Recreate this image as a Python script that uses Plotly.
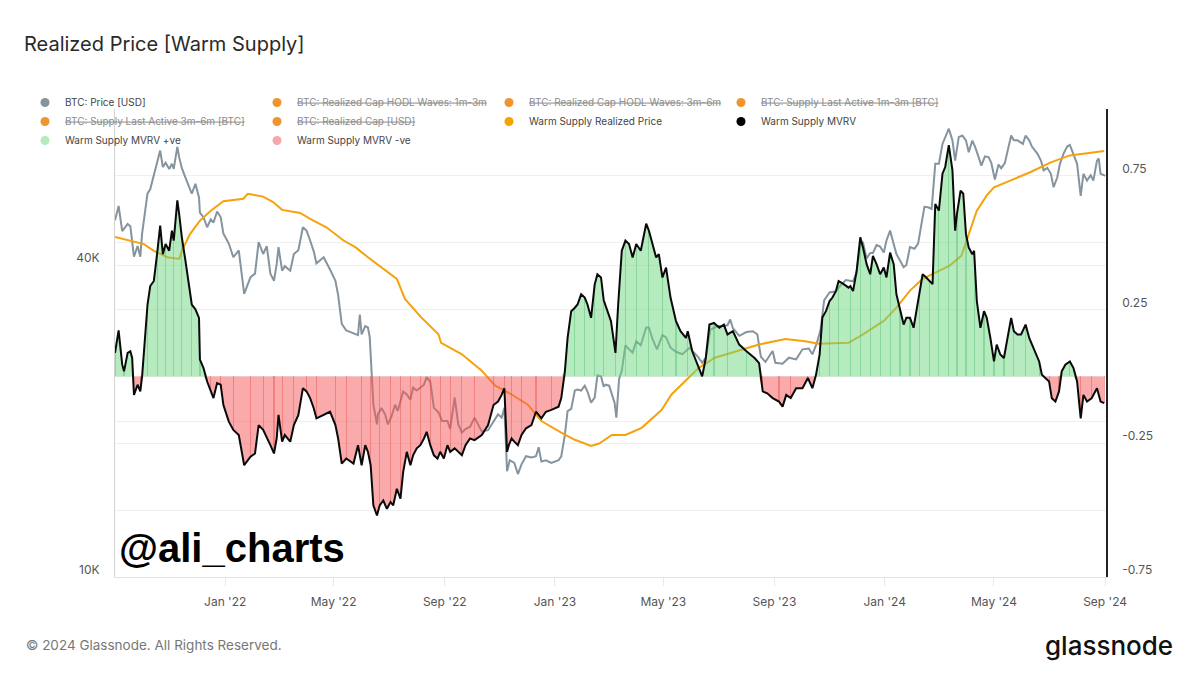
import plotly.graph_objects as go

# ---------------- data ----------------
price_dates = [
    "2021-09-01","2021-09-05","2021-09-09","2021-09-15","2021-09-18","2021-09-22","2021-09-26","2021-09-29",
    "2021-10-01","2021-10-05","2021-10-07","2021-10-10","2021-10-14","2021-10-18","2021-10-21","2021-10-24",
    "2021-10-27","2021-10-31","2021-11-03","2021-11-05","2021-11-09","2021-11-11","2021-11-14","2021-11-18",
    "2021-11-22","2021-11-25","2021-11-29","2021-12-03","2021-12-04","2021-12-08","2021-12-12","2021-12-16",
    "2021-12-19","2021-12-23","2021-12-27","2021-12-30","2022-01-05","2022-01-10","2022-01-16","2022-01-22",
    "2022-01-29","2022-02-03","2022-02-07","2022-02-12","2022-02-16","2022-02-20","2022-02-24","2022-02-27",
    "2022-03-01","2022-03-05","2022-03-08","2022-03-14","2022-03-18","2022-03-23","2022-03-28","2022-04-01",
    "2022-04-05","2022-04-09","2022-04-12","2022-04-20","2022-04-27","2022-05-03","2022-05-06","2022-05-10",
    "2022-05-15","2022-05-23","2022-05-28","2022-05-30","2022-06-01","2022-06-05","2022-06-08","2022-06-10",
    "2022-06-14","2022-06-18","2022-06-19","2022-06-23","2022-06-27","2022-06-30","2022-07-04","2022-07-08",
    "2022-07-11","2022-07-17","2022-07-21","2022-07-25","2022-07-28","2022-08-01","2022-08-09","2022-08-12",
    "2022-08-16","2022-08-20","2022-08-25","2022-08-29","2022-09-04","2022-09-07","2022-09-12","2022-09-16",
    "2022-09-20","2022-09-24","2022-09-29","2022-10-04","2022-10-12","2022-10-19","2022-10-25","2022-10-30",
    "2022-11-03","2022-11-06","2022-11-09","2022-11-12","2022-11-17","2022-11-21","2022-11-25","2022-11-30",
    "2022-12-06","2022-12-11","2022-12-14","2022-12-17","2022-12-22","2022-12-28","2023-01-05","2023-01-08",
    "2023-01-12","2023-01-15","2023-01-19","2023-01-23","2023-01-26","2023-01-30","2023-02-03","2023-02-06",
    "2023-02-10","2023-02-14","2023-02-17","2023-02-21","2023-02-24","2023-02-26","2023-03-02","2023-03-05",
    "2023-03-08","2023-03-10","2023-03-13","2023-03-16","2023-03-20","2023-03-24","2023-03-28","2023-04-01",
    "2023-04-06","2023-04-12","2023-04-15","2023-04-19","2023-04-24","2023-04-30","2023-05-04","2023-05-09",
    "2023-05-15","2023-05-22","2023-05-30","2023-06-04","2023-06-09","2023-06-13","2023-06-17","2023-06-22",
    "2023-06-30","2023-07-05","2023-07-11","2023-07-14","2023-07-17","2023-07-24","2023-08-01","2023-08-08",
    "2023-08-13","2023-08-17","2023-08-22","2023-08-30","2023-09-02","2023-09-10","2023-09-17","2023-09-25",
    "2023-10-02","2023-10-09","2023-10-13","2023-10-18","2023-10-22","2023-10-26","2023-11-01","2023-11-08",
    "2023-11-13","2023-11-19","2023-11-22","2023-11-27","2023-12-01","2023-12-05","2023-12-08","2023-12-12",
    "2023-12-16","2023-12-19","2023-12-23","2023-12-27","2023-12-31","2024-01-03","2024-01-07","2024-01-11",
    "2024-01-14","2024-01-18","2024-01-22","2024-01-25","2024-01-29","2024-02-03","2024-02-07","2024-02-11",
    "2024-02-14","2024-02-18","2024-02-22","2024-02-26","2024-03-01","2024-03-05","2024-03-08","2024-03-12",
    "2024-03-16","2024-03-19","2024-03-23","2024-03-27","2024-03-31","2024-04-03","2024-04-07","2024-04-10",
    "2024-04-14","2024-04-17","2024-04-21","2024-04-25","2024-04-28","2024-05-02","2024-05-06","2024-05-09",
    "2024-05-13","2024-05-16","2024-05-20","2024-05-23","2024-05-27","2024-06-02","2024-06-05","2024-06-09",
    "2024-06-12","2024-06-18","2024-06-22","2024-06-25","2024-06-29","2024-07-03","2024-07-06","2024-07-10",
    "2024-07-13","2024-07-17","2024-07-21","2024-07-24","2024-07-28","2024-08-01","2024-08-05","2024-08-08",
    "2024-08-12","2024-08-16","2024-08-19","2024-08-23","2024-08-25","2024-08-27","2024-08-31","2024-09-01",
]
price_usd = [
    48800,52000,46500,48000,47500,41500,43500,41500,
    46000,52500,55000,56000,59500,63000,66500,61800,
    63000,61300,62700,61300,67600,64600,61500,59000,
    56500,54900,57400,54000,50500,49400,47300,49000,
    48300,50700,49500,46000,44000,41400,42700,35200,
    37900,38500,44300,42000,43500,38500,37300,40200,
    43300,39000,39800,39000,42000,42700,47300,46600,
    44600,42500,40300,41400,39200,37300,35000,30800,
    29900,29500,29300,32100,29400,30500,30300,29000,
    21500,19700,20600,21200,20600,19700,20400,21500,
    20900,22800,22500,22000,23200,22900,23500,24300,
    23800,21200,20800,20000,20000,19300,22200,19700,
    19000,19300,19500,20300,19100,19200,20000,20600,
    20300,21200,16000,16800,16600,15800,16500,17100,
    17000,17100,17800,16700,16800,16600,16800,17100,
    18800,20900,21100,22900,23000,22900,23400,22800,
    21700,22200,24500,24400,23300,23500,23400,22400,
    21700,20300,24100,25000,28000,27500,27100,28500,
    28000,30300,30300,28800,27500,29300,29000,27700,
    27200,26900,27700,27100,26500,25900,26500,30000,
    30500,30500,30600,31400,30200,29200,29700,29800,
    29400,26600,26000,27300,25900,25800,26500,26300,
    27500,27600,26900,28300,30000,34200,35400,35600,
    36500,37400,37300,37200,38700,44000,44200,41200,
    42200,42200,43700,43400,42300,44600,46600,44000,
    42000,40800,39600,40000,43300,43000,44000,48300,
    51800,51700,51300,62700,62700,68500,70600,73300,
    69600,63600,70600,71100,69600,66000,69500,67700,
    64600,62200,64800,64600,63000,58500,62500,61500,
    62900,66000,71100,69600,69600,68500,71100,69600,
    67700,65600,63600,60900,61600,60000,56500,59000,
    62700,65600,67700,68200,65600,62700,54400,60000,
    58200,59600,58200,63600,64200,60000,59600,59400,
]

realized_dates = [
    "2021-09-01","2021-09-18","2021-10-03","2021-10-14","2021-10-29","2021-11-11","2021-11-14","2021-11-23",
    "2021-12-04","2021-12-16","2021-12-30","2022-01-21","2022-01-26","2022-02-12","2022-02-23","2022-03-05",
    "2022-03-25","2022-04-05","2022-04-23","2022-05-12","2022-05-25","2022-06-08","2022-06-23","2022-07-10",
    "2022-07-19","2022-08-06","2022-08-25","2022-08-28","2022-09-20","2022-10-12","2022-10-27","2022-11-14",
    "2022-12-02","2022-12-17","2023-01-08","2023-01-23","2023-02-10","2023-02-19","2023-03-05","2023-03-20",
    "2023-04-07","2023-04-20","2023-04-29","2023-05-10","2023-05-25","2023-06-09","2023-06-27","2023-07-23",
    "2023-08-15","2023-09-13","2023-10-05","2023-10-20","2023-11-22","2023-12-08","2023-12-31","2024-01-14",
    "2024-01-29","2024-02-12","2024-02-27","2024-03-13","2024-03-26","2024-04-03","2024-04-12","2024-04-23",
    "2024-05-01","2024-05-19","2024-06-10","2024-07-03","2024-07-24","2024-08-31",
]
realized_usd = [
    45300,44500,43900,42600,41400,41100,42600,45900,
    48700,50900,53100,53700,54900,54200,52900,51100,
    50400,49100,47300,44600,43300,41400,39600,37600,
    34400,31700,29400,28300,26900,25000,23400,22500,
    21500,20000,19000,18400,17900,18100,18800,18800,
    19400,20300,21000,22500,23900,25300,26500,27300,
    28100,28800,28500,28200,28300,29400,31200,33100,
    35700,37600,38700,39900,41700,45900,50900,54500,
    56500,58200,60400,63100,65100,66400,
]

mvrv_dates = [
    "2021-09-01","2021-09-05","2021-09-09","2021-09-11","2021-09-15","2021-09-18","2021-09-20","2021-09-22",
    "2021-09-26","2021-09-29","2021-10-01","2021-10-05","2021-10-07","2021-10-10","2021-10-14","2021-10-18",
    "2021-10-21","2021-10-24","2021-10-27","2021-10-31","2021-11-03","2021-11-05","2021-11-09","2021-11-11",
    "2021-11-14","2021-11-18","2021-11-22","2021-11-25","2021-11-29","2021-12-03","2021-12-04","2021-12-08",
    "2021-12-12","2021-12-16","2021-12-19","2021-12-23","2021-12-27","2021-12-30","2022-01-05","2022-01-10",
    "2022-01-16","2022-01-22","2022-01-29","2022-02-03","2022-02-07","2022-02-12","2022-02-16","2022-02-20",
    "2022-02-24","2022-02-27","2022-03-01","2022-03-05","2022-03-08","2022-03-14","2022-03-18","2022-03-23",
    "2022-03-28","2022-04-01","2022-04-05","2022-04-09","2022-04-12","2022-04-20","2022-04-27","2022-05-03",
    "2022-05-06","2022-05-10","2022-05-15","2022-05-23","2022-05-28","2022-06-01","2022-06-05","2022-06-08",
    "2022-06-11","2022-06-14","2022-06-18","2022-06-21","2022-06-25","2022-06-29","2022-07-03","2022-07-06",
    "2022-07-10","2022-07-14","2022-07-17","2022-07-21","2022-07-25","2022-07-28","2022-08-01","2022-08-05",
    "2022-08-09","2022-08-12","2022-08-16","2022-08-20","2022-08-24","2022-08-27","2022-08-31","2022-09-04",
    "2022-09-07","2022-09-12","2022-09-16","2022-09-20","2022-09-24","2022-09-29","2022-10-04","2022-10-12",
    "2022-10-19","2022-10-25","2022-10-30","2022-11-03","2022-11-06","2022-11-09","2022-11-11","2022-11-14",
    "2022-11-17","2022-11-21","2022-11-25","2022-11-30","2022-12-06","2022-12-11","2022-12-17","2022-12-22",
    "2022-12-28","2023-01-05","2023-01-08","2023-01-12","2023-01-15","2023-01-19","2023-01-23","2023-01-26",
    "2023-01-30","2023-02-03","2023-02-06","2023-02-10","2023-02-14","2023-02-17","2023-02-21","2023-02-24",
    "2023-03-04","2023-03-07","2023-03-09","2023-03-12","2023-03-16","2023-03-20","2023-03-24","2023-03-28",
    "2023-04-01","2023-04-06","2023-04-12","2023-04-15","2023-04-23","2023-04-26","2023-04-30","2023-05-04",
    "2023-05-09","2023-05-15","2023-05-20","2023-05-26","2023-05-28","2023-06-02","2023-06-08","2023-06-13",
    "2023-06-17","2023-06-21","2023-06-26","2023-07-02","2023-07-07","2023-07-11","2023-07-17","2023-07-24",
    "2023-08-01","2023-08-10","2023-08-15","2023-08-19","2023-08-24","2023-08-30","2023-09-06","2023-09-10",
    "2023-09-14","2023-09-19","2023-09-25","2023-10-02","2023-10-08","2023-10-13","2023-10-17","2023-10-21",
    "2023-10-24","2023-10-28","2023-11-01","2023-11-04","2023-11-08","2023-11-11","2023-11-17","2023-11-22",
    "2023-11-24","2023-11-27","2023-12-01","2023-12-05","2023-12-08","2023-12-12","2023-12-16","2023-12-19",
    "2023-12-23","2023-12-27","2023-12-31","2024-01-03","2024-01-07","2024-01-11","2024-01-14","2024-01-18",
    "2024-01-22","2024-01-25","2024-01-29","2024-02-02","2024-02-05","2024-02-09","2024-02-12","2024-02-16",
    "2024-02-20","2024-02-23","2024-02-26","2024-03-01","2024-03-05","2024-03-08","2024-03-12","2024-03-16",
    "2024-03-19","2024-03-21","2024-03-25","2024-03-28","2024-03-31","2024-04-03","2024-04-07","2024-04-09",
    "2024-04-12","2024-04-16","2024-04-20","2024-04-23","2024-04-27","2024-05-01","2024-05-04","2024-05-08",
    "2024-05-12","2024-05-16","2024-05-20","2024-05-23","2024-05-27","2024-05-31","2024-06-05","2024-06-09",
    "2024-06-14","2024-06-20","2024-06-23","2024-06-27","2024-07-01","2024-07-04","2024-07-08","2024-07-12",
    "2024-07-15","2024-07-19","2024-07-24","2024-07-28","2024-08-01","2024-08-05","2024-08-08","2024-08-12",
    "2024-08-17","2024-08-23","2024-08-27","2024-08-31",
]
mvrv_vals = [
    0.088,0.172,0.044,0.019,0.088,0.094,0.069,-0.069,
    -0.031,-0.056,0.0,0.207,0.269,0.338,0.357,0.47,
    0.564,0.457,0.495,0.47,0.545,0.508,0.658,0.608,
    0.52,0.432,0.345,0.269,0.251,0.219,0.063,0.031,
    -0.019,-0.056,-0.081,-0.025,-0.031,-0.107,-0.169,-0.2,
    -0.219,-0.332,-0.3,-0.288,-0.182,-0.2,-0.232,-0.257,
    -0.288,-0.232,-0.144,-0.244,-0.219,-0.244,-0.182,-0.144,
    -0.044,-0.056,-0.081,-0.119,-0.157,-0.144,-0.132,-0.182,
    -0.232,-0.326,-0.307,-0.326,-0.257,-0.332,-0.257,-0.282,
    -0.332,-0.482,-0.52,-0.482,-0.464,-0.495,-0.47,-0.482,
    -0.42,-0.457,-0.357,-0.282,-0.332,-0.295,-0.269,-0.257,
    -0.232,-0.207,-0.257,-0.295,-0.307,-0.282,-0.307,-0.257,
    -0.282,-0.269,-0.282,-0.295,-0.257,-0.232,-0.238,-0.219,
    -0.182,-0.107,-0.094,-0.069,-0.044,-0.282,-0.257,-0.232,
    -0.244,-0.257,-0.219,-0.194,-0.182,-0.132,-0.157,-0.132,
    -0.125,-0.113,-0.081,0.019,0.144,0.244,0.257,0.269,
    0.307,0.295,0.269,0.219,0.344,0.382,0.37,0.285,
    0.207,0.144,0.088,0.269,0.47,0.508,0.495,0.445,
    0.495,0.47,0.571,0.545,0.445,0.457,0.37,0.407,
    0.294,0.207,0.169,0.144,0.169,0.094,0.044,0.0,
    0.069,0.194,0.2,0.182,0.194,0.157,0.169,0.119,
    0.094,0.069,0.05,-0.056,-0.063,-0.081,-0.094,-0.113,
    -0.069,-0.081,-0.044,-0.044,-0.006,-0.044,0.006,0.082,
    0.22,0.244,0.282,0.294,0.319,0.357,0.344,0.332,
    0.338,0.319,0.395,0.52,0.482,0.42,0.382,0.451,
    0.42,0.382,0.407,0.37,0.463,0.42,0.307,0.244,
    0.194,0.219,0.219,0.182,0.244,0.319,0.382,0.37,
    0.357,0.345,0.645,0.62,0.758,0.783,0.865,0.771,
    0.545,0.607,0.695,0.683,0.532,0.482,0.457,0.47,
    0.282,0.182,0.244,0.219,0.144,0.056,0.119,0.082,
    0.069,0.144,0.219,0.169,0.157,0.157,0.194,0.144,
    0.107,0.056,0.006,-0.006,-0.019,-0.082,-0.094,-0.056,
    0.019,0.044,0.056,0.031,-0.019,-0.157,-0.069,-0.094,
    -0.082,-0.044,-0.094,-0.1,
]

x_tick_dates = ["2022-01-01","2022-05-01","2022-09-01","2023-01-01","2023-05-01",
                "2023-09-01","2024-01-01","2024-05-01","2024-09-01"]
x_tick_text = ["Jan '22","May '22","Sep '22","Jan '23","May '23","Sep '23","Jan '24","May '24","Sep '24"]
left_tick_vals = [10000, 20000, 40000, 80000]
left_tick_text = ["10K", "", "40K", ""]
right_tick_vals = [-0.75, -0.5, -0.25, 0, 0.25, 0.5, 0.75, 1.0]
right_tick_text = ["-0.75", "", "-0.25", "", "0.25", "", "0.75", ""]

legend_names = [
    "BTC: Price [USD]",
    "BTC: Realized Cap HODL Waves: 1m-3m",
    "BTC: Realized Cap HODL Waves: 3m-6m",
    "BTC: Supply Last Active 1m-3m [BTC]",
    "BTC: Supply Last Active 3m-6m [BTC]",
    "BTC: Realized Cap [USD]",
    "Warm Supply Realized Price",
    "Warm Supply MVRV",
    "Warm Supply MVRV +ve",
    "Warm Supply MVRV -ve",
]
legend_hidden = [False, True, True, True, True, True, False, False, False, False]

# ---------------- styles ----------------
C_PRICE = "#85949e"
C_REAL = "#f6a20c"
C_HIDDEN = "#ef9530"
C_POS_FILL = "rgba(110,215,130,0.50)"
C_NEG_FILL = "rgba(245,85,85,0.50)"
C_POS_BAR = "rgba(60,165,90,0.45)"
C_NEG_BAR = "rgba(200,50,50,0.40)"
legend_colors = [C_PRICE, C_HIDDEN, C_HIDDEN, C_HIDDEN, C_HIDDEN, C_HIDDEN,
                 "#f5a300", "#000000", "#b4eabc", "#f7a7a7"]
FONT = "Inter"

fig = go.Figure()

fig.add_trace(go.Scatter(x=price_dates, y=price_usd, mode="lines",
                         line=dict(color=C_PRICE, width=2), showlegend=False,
                         hoverinfo="skip", yaxis="y"))
fig.add_trace(go.Scatter(x=realized_dates, y=realized_usd, mode="lines",
                         line=dict(color=C_REAL, width=2), showlegend=False,
                         hoverinfo="skip", yaxis="y"))

pos_vals = [v if v > 0 else 0 for v in mvrv_vals]
neg_vals = [v if v < 0 else 0 for v in mvrv_vals]
bar_dates = mvrv_dates[::3]
bar_vals = mvrv_vals[::3]
fig.add_trace(go.Bar(x=bar_dates, y=bar_vals, width=86400000 * 1.3,
                     marker=dict(color=[C_POS_BAR if v >= 0 else C_NEG_BAR for v in bar_vals],
                                 line=dict(width=0)),
                     showlegend=False, hoverinfo="skip", yaxis="y2"))
fig.add_trace(go.Scatter(x=mvrv_dates, y=pos_vals, mode="lines", fill="tozeroy",
                         fillcolor=C_POS_FILL, line=dict(width=0, color="rgba(0,0,0,0)"),
                         showlegend=False, hoverinfo="skip", yaxis="y2"))
fig.add_trace(go.Scatter(x=mvrv_dates, y=neg_vals, mode="lines", fill="tozeroy",
                         fillcolor=C_NEG_FILL, line=dict(width=0, color="rgba(0,0,0,0)"),
                         showlegend=False, hoverinfo="skip", yaxis="y2"))
fig.add_trace(go.Scatter(x=mvrv_dates, y=mvrv_vals, mode="lines",
                         line=dict(color="#0a0a0a", width=2),
                         showlegend=False, hoverinfo="skip", yaxis="y2"))

for name, col, hid in zip(legend_names, legend_colors, legend_hidden):
    label = name
    if hid:
        label = ('<span style="text-decoration:line-through;color:#8c8c8c">'
                 + name + '</span>')
    fig.add_trace(go.Scatter(x=[None], y=[None], mode="markers",
                             marker=dict(size=9, color=col), name=label,
                             showlegend=True, hoverinfo="skip", yaxis="y"))

# page body adds an 8px margin, so the figure is drawn 8px smaller and shifted
OFF = 8
W, H = 1199 - OFF, 675 - OFF
PL, PR, PT, PB = 115 - OFF, 1106 - OFF, 109 - OFF, 577 - OFF
PW, PH = PR - PL, PB - PT

def px(x):
    return (x - OFF - PL) / PW

def py(y):
    return (PB - (y - OFF)) / PH

fig.update_layout(
    width=W, height=H,
    margin=dict(l=PL, r=W - PR, t=PT, b=H - PB, autoexpand=False),
    paper_bgcolor="white", plot_bgcolor="white",
    font=dict(family=FONT, size=12, color="#555"),
    title=dict(text="Realized Price [Warm Supply]", x=(24 - OFF) / W, xanchor="left",
               y=1 - (44 - OFF) / H, yanchor="middle",
               font=dict(family=FONT, size=20, color="#2a2a2a")),
    showlegend=True,
    legend=dict(orientation="h", x=px(25), xanchor="left", y=py(88), yanchor="top",
                entrywidth=187, entrywidthmode="pixels", bgcolor="rgba(0,0,0,0)",
                font=dict(family=FONT, size=10, color="#444"), traceorder="normal"),
    bargap=0,
    xaxis=dict(type="date", range=["2021-09-01", "2024-09-02"],
               tickvals=x_tick_dates, ticktext=x_tick_text,
               showgrid=False, zeroline=False, showline=True, linecolor="#e2e2e2",
               ticks="outside", ticklen=8, tickcolor="#e8e8e8",
               tickfont=dict(family=FONT, size=12, color="#555"), ticklabelstandoff=6),
    yaxis=dict(type="log", range=[4, 4.90309], tickvals=left_tick_vals, ticktext=left_tick_text,
               showgrid=True, gridcolor="#efefef", zeroline=False,
               showline=True, linecolor="#d4d4d4", ticks="",
               tickfont=dict(family=FONT, size=12, color="#555"),
               ticklabelshift=-7, ticklabelstandoff=12),
    yaxis2=dict(overlaying="y", side="right", range=[-0.75, 1.0],
                tickvals=right_tick_vals, ticktext=right_tick_text,
                showgrid=True, gridcolor="#efefef", zeroline=False,
                showline=True, linecolor="#222", linewidth=1.5, ticks="",
                tickfont=dict(family=FONT, size=12, color="#555"),
                ticklabelshift=-7, ticklabelstandoff=12),
    annotations=[
        dict(text="© 2024 Glassnode. All Rights Reserved.", xref="paper", yref="paper",
             x=px(24), y=py(645), xanchor="left", yanchor="middle", showarrow=False,
             font=dict(family=FONT, size=13.5, color="#777")),
        dict(text="glassnode", xref="paper", yref="paper",
             x=px(1175), y=py(645), xanchor="right", yanchor="middle", showarrow=False,
             font=dict(family=FONT, size=26, color="#111", weight=500)),
        dict(text="@ali_charts", xref="paper", yref="paper",
             x=px(117), y=py(548), xanchor="left", yanchor="middle", showarrow=False,
             font=dict(family="Liberation Sans", size=40, color="#000", weight="bold")),
    ],
)

fig.write_html("out.html")
